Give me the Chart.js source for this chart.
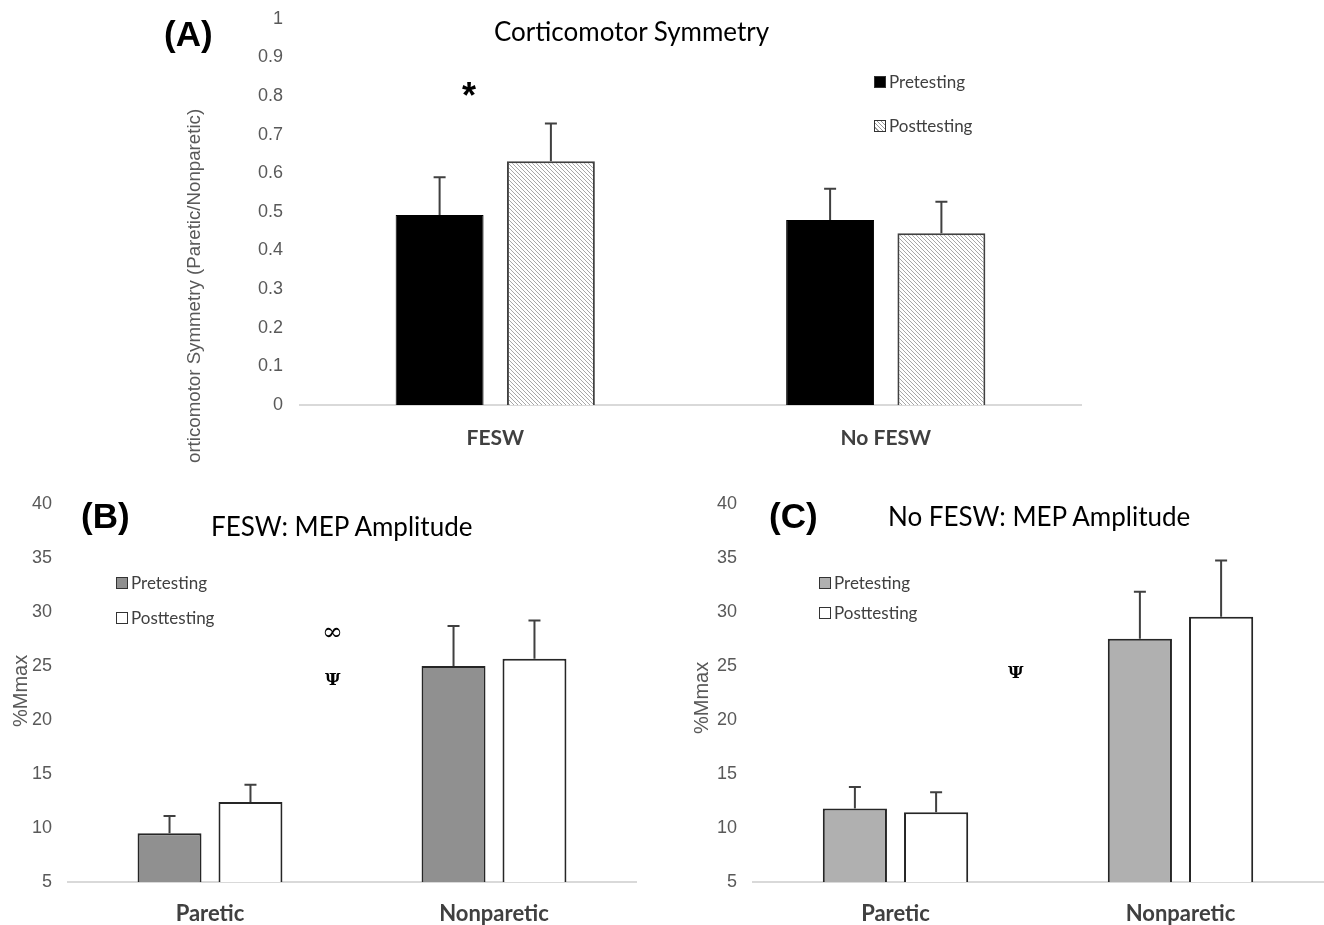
<!DOCTYPE html>
<html>
<head>
<meta charset="utf-8">
<script src="https://cdn.jsdelivr.net/npm/chart.js@4.4.1/dist/chart.umd.min.js"></script>
<style>
  body { margin: 0; width: 1324px; height: 925px; background: #fff; position: relative; overflow: hidden; }
  canvas { position: absolute; }
  .lbl { position: absolute; white-space: nowrap; line-height: 1; }
  .panel { font: bold 35px "Liberation Sans", Arial, sans-serif; color: #000; }
  .title { font: 26px Lato, "Open Sans", sans-serif; color: #000; }
  .ytitle { font: 18.7px "Liberation Sans", Arial, sans-serif; color: #595959; transform-origin: 0 0; transform: rotate(-90deg); }
  .leg { font: 17px Lato, sans-serif; color: #404040; display: flex; align-items: center; }
  .leg i { display: inline-block; width: 10px; height: 10px; border: 1px solid #333; margin-right: 3px; }
  .mark { font-family: "DejaVu Serif", serif; color: #000; }
</style>
</head>
<body>
<canvas id="chartA" width="1324" height="479" style="left:0;top:-9px"></canvas>
<canvas id="chartB" width="662" height="448" style="left:0;top:477px"></canvas>
<canvas id="chartC" width="662" height="448" style="left:662px;top:477px"></canvas>

<div class="lbl panel" style="left:164px;top:14px">(A)</div>
<div class="lbl title" style="left:494px;top:15px">Corticomotor Symmetry</div>
<div class="lbl ytitle" style="left:183px;top:463px">orticomotor Symmetry (Paretic/Nonparetic)</div>
<div class="lbl leg" style="left:874px;top:71px"><i style="background:#000"></i>Pretesting</div>
<div class="lbl leg" style="left:874px;top:115px"><i style="background:repeating-linear-gradient(45deg,#fff 0 2px,#999 2px 3px)"></i>Posttesting</div>
<div class="lbl" style="left:462px;top:75px;font:bold 36px 'Liberation Sans',Arial,sans-serif">*</div>

<div class="lbl panel" style="left:81px;top:496px">(B)</div>
<div class="lbl title" style="left:211px;top:510px">FESW: MEP Amplitude</div>
<div class="lbl ytitle" style="left:9px;top:727px;font-size:20px">%Mmax</div>
<div class="lbl leg" style="left:116px;top:572px"><i style="background:#909090"></i>Pretesting</div>
<div class="lbl leg" style="left:116px;top:607px"><i style="background:#fff"></i>Posttesting</div>
<div class="lbl mark" style="left:322px;top:619px;font-size:25px">∞</div>
<div class="lbl mark" style="left:325px;top:671px;font-size:17px;font-weight:bold">Ψ</div>

<div class="lbl panel" style="left:769px;top:496px">(C)</div>
<div class="lbl title" style="left:888px;top:500px">No FESW: MEP Amplitude</div>
<div class="lbl ytitle" style="left:690px;top:734px;font-size:20px">%Mmax</div>
<div class="lbl leg" style="left:819px;top:572px"><i style="background:#b0b0b0"></i>Pretesting</div>
<div class="lbl leg" style="left:819px;top:602px"><i style="background:#fff"></i>Posttesting</div>
<div class="lbl mark" style="left:1008px;top:664px;font-size:17px;font-weight:bold">Ψ</div>

<script>
// panel A: corticomotor symmetry
const groupsA = ["FESW", "No FESW"];
const preA = [0.492, 0.479];
const preErrA = [0.098, 0.081];
const postA = [0.631, 0.445];
const postErrA = [0.098, 0.081];

// panel B: FESW MEP amplitude (%Mmax)
const sidesB = ["Paretic", "Nonparetic"];
const preB = [9.5, 25.0];
const preErrB = [1.6, 3.7];
const postB = [12.4, 25.65];
const postErrB = [1.6, 3.55];

// panel C: No FESW MEP amplitude (%Mmax)
const sidesC = ["Paretic", "Nonparetic"];
const preC = [11.8, 27.5];
const preErrC = [2.0, 4.35];
const postC = [11.45, 29.55];
const postErrC = [1.85, 5.2];

function hatch() {
  const c = document.createElement("canvas");
  c.width = 4; c.height = 4;
  const g = c.getContext("2d");
  g.fillStyle = "#fff";
  g.fillRect(0, 0, 4, 4);
  g.strokeStyle = "#a8a8a8";
  g.lineWidth = 1;
  g.beginPath();
  g.moveTo(-1, -1); g.lineTo(5, 5);
  g.moveTo(-1, 3); g.lineTo(1, 5);
  g.moveTo(3, -1); g.lineTo(5, 1);
  g.stroke();
  return g.createPattern(c, "repeat");
}

// draws error bars from each dataset's `errors` array
const errorBars = {
  id: "errorBars",
  afterDatasetsDraw(chart) {
    const { ctx } = chart;
    const y = chart.scales.y;
    chart.data.datasets.forEach((ds, i) => {
      chart.getDatasetMeta(i).data.forEach((bar, j) => {
        const top = y.getPixelForValue(ds.data[j] + ds.errors[j]);
        ctx.save();
        ctx.strokeStyle = "#404040";
        ctx.lineWidth = 2;
        ctx.beginPath();
        ctx.moveTo(bar.x, bar.y);
        ctx.lineTo(bar.x, top);
        ctx.moveTo(bar.x - 6, top);
        ctx.lineTo(bar.x + 6, top);
        ctx.stroke();
        ctx.restore();
      });
    });
  },
};

const tickFont = { family: "'Liberation Sans', Arial, sans-serif", size: 18 };

function makeChart(id, labels, datasets, yOpts, pad, yWidth, xHeight, catSize, catPad) {
  return new Chart(document.getElementById(id), {
    type: "bar",
    data: { labels, datasets },
    options: {
      responsive: false,
      animation: false,
      devicePixelRatio: 1,
      layout: { padding: pad },
      plugins: { legend: { display: false }, tooltip: { enabled: false } },
      datasets: { bar: { categoryPercentage: 0.57, barPercentage: 0.79 } },
      scales: {
        x: {
          grid: { display: false, drawTicks: false },
          border: { display: true, color: "#d9d9d9", width: 2 },
          ticks: { font: { family: "Lato, 'Open Sans', sans-serif", size: catSize, weight: "bold" }, color: "#404040", padding: catPad },
          afterFit: (s) => { s.height = xHeight; },
        },
        y: Object.assign({
          grid: { display: false, drawTicks: false },
          border: { display: false },
          afterFit: (s) => { s.width = yWidth; },
        }, yOpts),
      },
    },
    plugins: [errorBars],
  });
}

makeChart("chartA", groupsA, [
  { label: "Pretesting", data: preA, errors: preErrA, backgroundColor: "#000", borderColor: "#000", borderWidth: 1 },
  { label: "Posttesting", data: postA, errors: postErrA, backgroundColor: hatch(), borderColor: "#404040", borderWidth: 2 },
], { min: 0, max: 1, ticks: { font: tickFont, color: "#595959", padding: 17, stepSize: 0.1,
      callback: (v) => String(Math.round(v * 10) / 10) } },
  { left: 0, top: 0, right: 243, bottom: 0 }, 300, 65, 21, 21);

makeChart("chartB", sidesB, [
  { label: "Pretesting", data: preB, errors: preErrB, base: 5, backgroundColor: "#909090", borderColor: "#262626", borderWidth: 2 },
  { label: "Posttesting", data: postB, errors: postErrB, base: 5, backgroundColor: "#fff", borderColor: "#262626", borderWidth: 2 },
], { min: 5, max: 40, ticks: { font: tickFont, color: "#595959", padding: 16, stepSize: 5 } },
  { left: 0, top: 0, right: 26, bottom: 0 }, 68, 43, 22, 19);

makeChart("chartC", sidesC, [
  { label: "Pretesting", data: preC, errors: preErrC, base: 5, backgroundColor: "#b0b0b0", borderColor: "#262626", borderWidth: 2 },
  { label: "Posttesting", data: postC, errors: postErrC, base: 5, backgroundColor: "#fff", borderColor: "#262626", borderWidth: 2 },
], { min: 5, max: 40, ticks: { font: tickFont, color: "#595959", padding: 16, stepSize: 5 } },
  { left: 0, top: 0, right: 1, bottom: 0 }, 91, 43, 22, 19);
</script>
</body>
</html>
